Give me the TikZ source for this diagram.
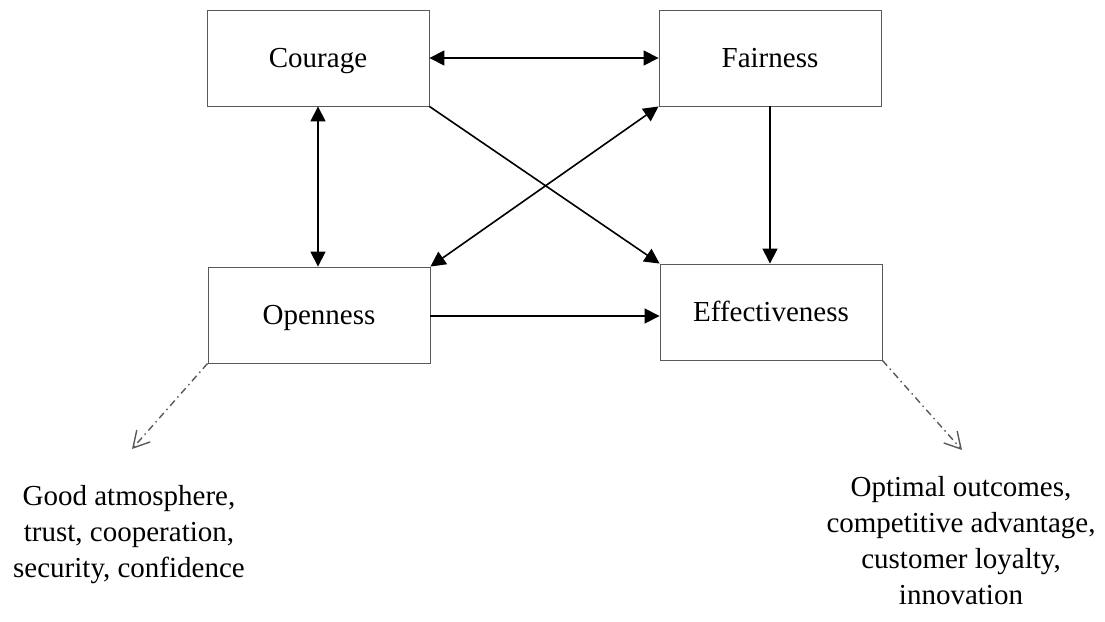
\documentclass[tikz,border=0pt]{standalone}
\usepackage{fontspec}
\setmainfont{Liberation Serif}
\usetikzlibrary{arrows.meta,calc}
\begin{document}
\begin{tikzpicture}[x=1pt,y=-1pt,
  box/.style={draw=black!65, line width=0.9pt, minimum width=222pt, minimum height=96pt,
    inner sep=0pt, font=\fontsize{29}{36}\selectfont, text height=19pt, text depth=0pt},
  link/.style={line width=1.6pt, black},
  both/.style={link, {Triangle[length=15pt,width=15pt]}-{Triangle[length=15pt,width=15pt]}},
  one/.style={link, -{Triangle[length=15pt,width=15pt]}},
  hint/.style={draw=black!65, line width=1.4pt, dash pattern=on 7pt off 4pt on 1.5pt off 4pt,
    -{Straight Barb[length=16pt,width=18pt,line width=1.4pt]}},
  note/.style={align=center, anchor=north, inner sep=0pt, font=\fontsize{29}{36}\selectfont}
]
\useasboundingbox (0,0) rectangle (1105,621);
\node[box] (C) at (318,58) {Courage};
\node[box] (F) at (770,58) {Fairness};
\node[box] (O) at (319,315) {Openness};
\node[box] (E) at (771,312) {Effectiveness};
\draw[both] (C.east) -- (F.west);
\draw[both] (C.south) -- (O.north -| C.south);
\draw[one] (C.south east) -- (E.north west);
\draw[both] (F.south west) -- (O.north east);
\draw[one] (F.south) -- (E.north -| F.south);
\coordinate (oe) at ($(O.east)+(0,1)$);
\draw[one] (oe) -- (oe -| E.west);
\coordinate (l) at (132,449);
\coordinate (r) at (962,450);
\draw[hint] (O.south west) -- (l);
\draw[hint] (E.south east) -- (r);
\node[note] (nl) at (129,485) {Good atmosphere,\\trust, cooperation,\\security, confidence};
\node[note] (nr) at (961,476) {Optimal outcomes,\\competitive advantage,\\customer loyalty,\\innovation};
\end{tikzpicture}
\end{document}
